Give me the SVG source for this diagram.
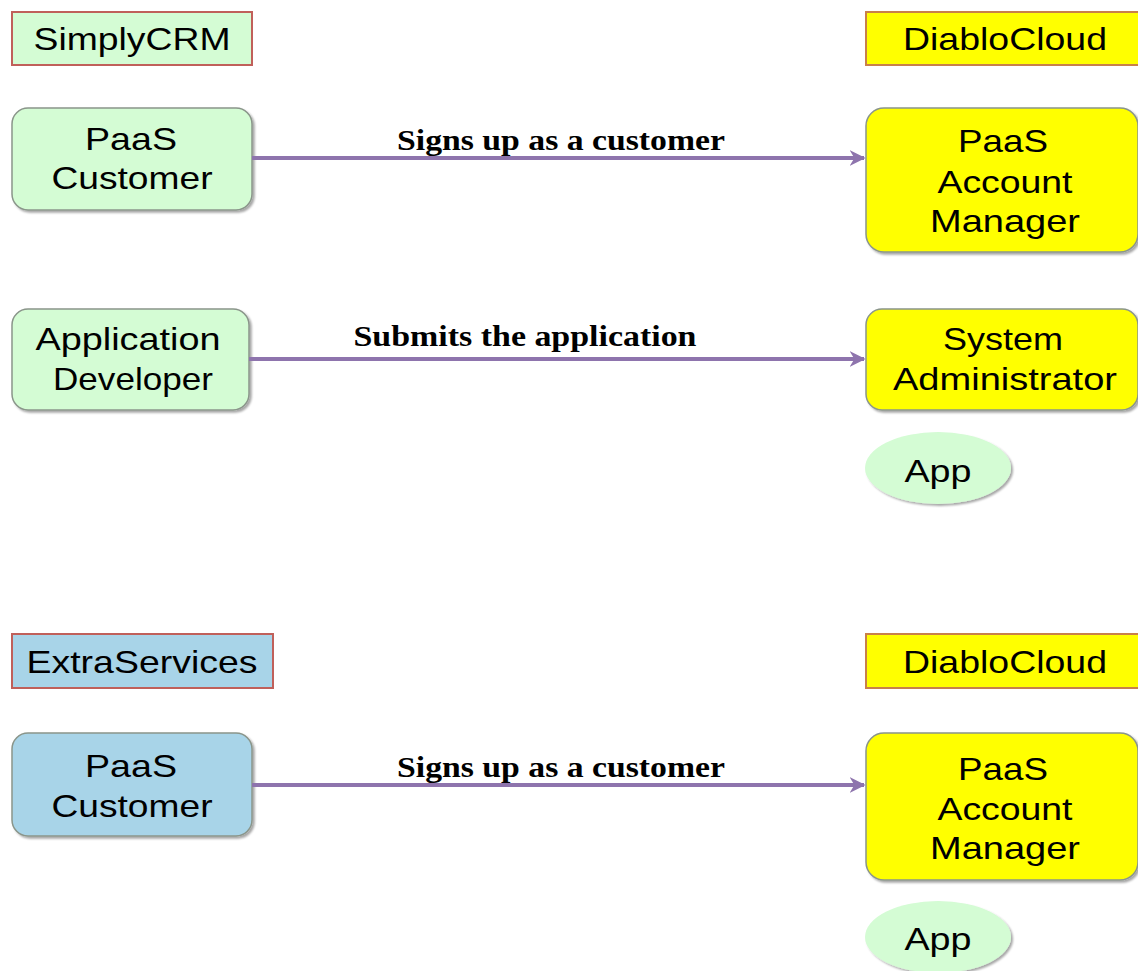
<svg xmlns="http://www.w3.org/2000/svg" width="1138" height="971" viewBox="0 0 1138 971">
<defs>
<marker id="arr" viewBox="0 0 10 10" refX="9" refY="5" markerWidth="4" markerHeight="4" orient="auto" markerUnits="strokeWidth">
<path d="M0,0 L10,5 L0,10 L3,5 z" fill="#8e74ad"/>
</marker>
<filter id="sh" x="-5%" y="-5%" width="115%" height="120%">
<feDropShadow dx="2" dy="2" stdDeviation="1" flood-color="#000" flood-opacity="0.35"/>
</filter>
</defs>
<style>
.t{font-family:"Liberation Sans",Arial,sans-serif;font-size:32px;fill:#000;text-anchor:middle}
.h{font-family:"Liberation Sans",Arial,sans-serif;font-size:32px;fill:#000;text-anchor:middle}
.lbl{font-family:"Liberation Serif","Times New Roman",serif;font-size:29px;font-weight:bold;fill:#000;text-anchor:middle}
.green{fill:#d4fcd4}
.blue{fill:#a8d4e8}
.yellow{fill:#ffff00}
.hdrG{stroke:#c0605a;stroke-width:2}
.hdrY{stroke:#c8804a;stroke-width:2}
.node{stroke:#8a958a;stroke-width:1.5}
.conn{stroke:#8e74ad;stroke-width:4;fill:none}
</style>
<g id="hdr-simplycrm">
<rect x="12" y="12" width="240" height="53" class="green hdrG"/>
<text x="132" y="50" class="h" textLength="197" lengthAdjust="spacingAndGlyphs">SimplyCRM</text>
</g>
<g id="hdr-diablocloud-1">
<rect x="866" y="12" width="276" height="53" class="yellow hdrY"/>
<text x="1005" y="50" class="h" textLength="204" lengthAdjust="spacingAndGlyphs">DiabloCloud</text>
</g>
<g id="paas-customer-1">
<rect x="12" y="108" width="240" height="102" rx="16" class="green node" filter="url(#sh)"/>
<text x="131" y="150" class="t" textLength="92" lengthAdjust="spacingAndGlyphs">PaaS</text>
<text x="132" y="189" class="t" textLength="161" lengthAdjust="spacingAndGlyphs">Customer</text>
</g>
<g id="paas-account-manager-1">
<rect x="866" y="108" width="272" height="144" rx="18" class="yellow node" filter="url(#sh)"/>
<text x="1003" y="152" class="t" textLength="90" lengthAdjust="spacingAndGlyphs">PaaS</text>
<text x="1005" y="193" class="t" textLength="135" lengthAdjust="spacingAndGlyphs">Account</text>
<text x="1005" y="232" class="t" textLength="150" lengthAdjust="spacingAndGlyphs">Manager</text>
</g>
<g id="application-developer">
<rect x="12" y="309" width="237" height="101" rx="16" class="green node" filter="url(#sh)"/>
<text x="128" y="350" class="t" textLength="185" lengthAdjust="spacingAndGlyphs">Application</text>
<text x="133" y="390" class="t" textLength="160" lengthAdjust="spacingAndGlyphs">Developer</text>
</g>
<g id="system-administrator">
<rect x="866" y="309" width="272" height="101" rx="16" class="yellow node" filter="url(#sh)"/>
<text x="1003" y="350" class="t" textLength="120" lengthAdjust="spacingAndGlyphs">System</text>
<text x="1005" y="390" class="t" textLength="224" lengthAdjust="spacingAndGlyphs">Administrator</text>
</g>
<g id="app-1">
<ellipse cx="938" cy="468" rx="73" ry="36" class="green" filter="url(#sh)"/>
<text x="938" y="482" class="t" textLength="67" lengthAdjust="spacingAndGlyphs">App</text>
</g>
<g id="hdr-extraservices">
<rect x="12" y="634" width="261" height="54" class="blue hdrG"/>
<text x="142" y="673" class="h" textLength="231" lengthAdjust="spacingAndGlyphs">ExtraServices</text>
</g>
<g id="hdr-diablocloud-2">
<rect x="866" y="634" width="276" height="54" class="yellow hdrY"/>
<text x="1005" y="673" class="h" textLength="204" lengthAdjust="spacingAndGlyphs">DiabloCloud</text>
</g>
<g id="paas-customer-2">
<rect x="12" y="733" width="240" height="103" rx="16" class="blue node" filter="url(#sh)"/>
<text x="131" y="777" class="t" textLength="92" lengthAdjust="spacingAndGlyphs">PaaS</text>
<text x="132" y="817" class="t" textLength="161" lengthAdjust="spacingAndGlyphs">Customer</text>
</g>
<g id="paas-account-manager-2">
<rect x="866" y="733" width="272" height="147" rx="18" class="yellow node" filter="url(#sh)"/>
<text x="1003" y="780" class="t" textLength="90" lengthAdjust="spacingAndGlyphs">PaaS</text>
<text x="1005" y="820" class="t" textLength="135" lengthAdjust="spacingAndGlyphs">Account</text>
<text x="1005" y="859" class="t" textLength="150" lengthAdjust="spacingAndGlyphs">Manager</text>
</g>
<g id="app-2">
<ellipse cx="938" cy="937" rx="73" ry="36" class="green" filter="url(#sh)"/>
<text x="938" y="950" class="t" textLength="67" lengthAdjust="spacingAndGlyphs">App</text>
</g>
<g id="connectors">
<line x1="252" y1="158" x2="864" y2="158" class="conn" marker-end="url(#arr)"/>
<text x="561" y="150" class="lbl" textLength="328" lengthAdjust="spacingAndGlyphs">Signs up as a customer</text>
<line x1="249" y1="359" x2="864" y2="359" class="conn" marker-end="url(#arr)"/>
<text x="525" y="346" class="lbl" textLength="343" lengthAdjust="spacingAndGlyphs">Submits the application</text>
<line x1="252" y1="785" x2="864" y2="785" class="conn" marker-end="url(#arr)"/>
<text x="561" y="777" class="lbl" textLength="328" lengthAdjust="spacingAndGlyphs">Signs up as a customer</text>
</g>
</svg>
